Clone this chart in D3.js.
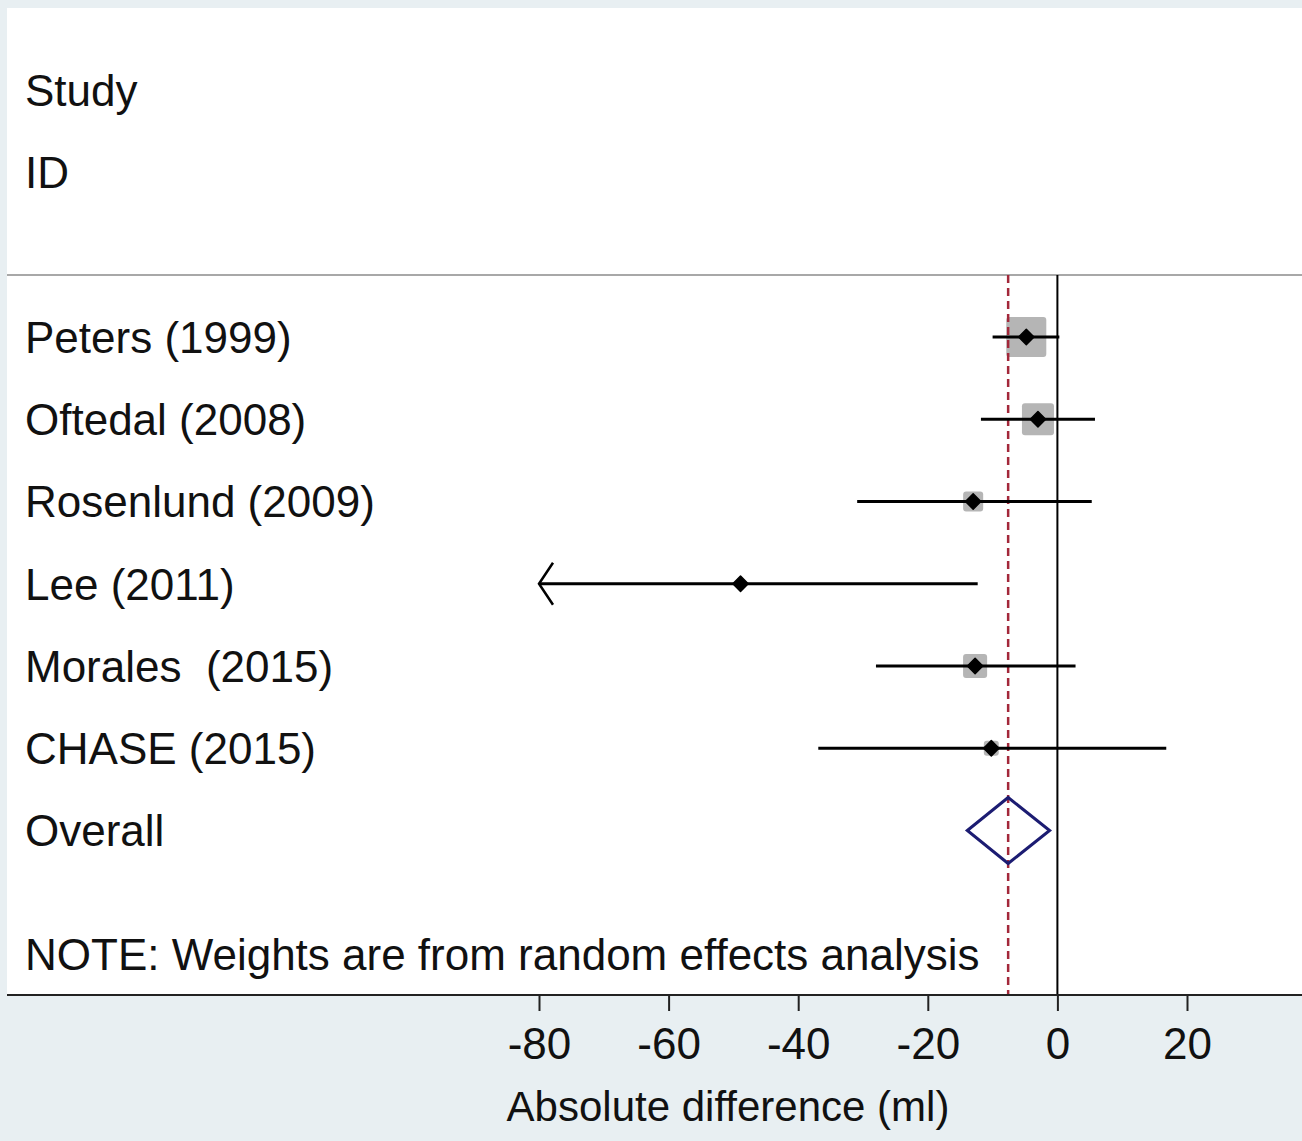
<!DOCTYPE html>
<html>
<head>
<meta charset="utf-8">
<script src="https://cdn.jsdelivr.net/npm/d3@7"></script>
<style>
  body { margin: 0; background: #e8eff2; }
  svg { display: block; font-family: "Liberation Sans", Arial, sans-serif; }
  text { white-space: pre; }
</style>
</head>
<body>
<svg width="1302" height="1141"></svg>
<script>
// study rows
var studies = ["Peters (1999)", "Oftedal (2008)", "Rosenlund (2009)", "Lee (2011)", "Morales  (2015)", "CHASE (2015)"]
var estimates = [-4.8, -3.0, -13.0, -48.9, -12.7, -10.2]
var lowerCI = [-10.0, -11.8, -30.9, -86.0, -28.0, -36.9]
var upperCI = [0.3, 5.8, 5.3, -12.3, 2.8, 16.8]
var weights = [41.5, 26.6, 10.4, 0.7, 15.0, 5.8]
// overall (random effects)
var overall = {label: "Overall", est: -7.6, lo: -13.9, hi: -1.2}
var xTicks = [-80, -60, -40, -20, 0, 20]
var axisTitle = "Absolute difference (ml)"
var note = "NOTE: Weights are from random effects analysis"

var svg = d3.select("svg")
var x = d3.scaleLinear().domain([-80, 20]).range([539, 1187])
// row index: -3 = Study, -2 = ID, 0..5 studies, 6 overall, 7.5 note, 8 = axis
var y = d3.scaleLinear().domain([-4, 8]).range([8, 995])
var boxSize = d3.scaleSqrt().domain([0, 41.5]).range([0, 40])

// white plot region
svg.append("rect").attr("x", 7).attr("y", y(-4)).attr("width", 1302 - 7).attr("height", y(8) - y(-4)).attr("fill", "#ffffff")

var fs = 44
function label(txt, row) {
    svg.append("text").attr("x", 25).attr("y", y(row) + 0.36 * fs)
        .attr("xml:space", "preserve")
        .attr("font-size", fs).attr("fill", "#111").text(txt)
}
label("Study", -3)
label("ID", -2)
studies.forEach(function(s, i) { label(s, i) })
label(overall.label, 6)
label(note, 7.5)

// separator under header
svg.append("line").attr("x1", 7).attr("x2", 1302).attr("y1", y(-0.755)).attr("y2", y(-0.755))
    .attr("stroke", "#a8a8a8").attr("stroke-width", 2)

// line of no effect
svg.append("line").attr("x1", x(0)).attr("x2", x(0)).attr("y1", y(-0.755)).attr("y2", y(8))
    .attr("stroke", "#000").attr("stroke-width", 2)

// boxes
studies.forEach(function(s, i) {
    var b = boxSize(weights[i])
    svg.append("rect").attr("x", x(estimates[i]) - b / 2).attr("y", y(i) - b / 2)
        .attr("width", b).attr("height", b).attr("rx", 3)
        .attr("fill", "#b5b5b5")
})

// overall estimate dashed line
svg.append("line").attr("x1", x(overall.est)).attr("x2", x(overall.est)).attr("y1", y(-0.755)).attr("y2", y(8))
    .attr("stroke", "#a3283a").attr("stroke-width", 2.5).attr("stroke-dasharray", "8,5")

// confidence intervals
studies.forEach(function(s, i) {
    var lo = Math.max(lowerCI[i], -80)
    svg.append("line").attr("x1", x(lo)).attr("x2", x(upperCI[i])).attr("y1", y(i)).attr("y2", y(i))
        .attr("stroke", "#000").attr("stroke-width", 3)
    if (lowerCI[i] < -80) {
        svg.append("path")
            .attr("d", "M " + (x(-80) + 14) + " " + (y(i) - 21) + " L " + x(-80) + " " + y(i) + " L " + (x(-80) + 14) + " " + (y(i) + 21))
            .attr("fill", "none").attr("stroke", "#000").attr("stroke-width", 2.5)
    }
    svg.append("path").attr("d", d3.symbol().type(d3.symbolDiamond2).size(150)())
        .attr("transform", "translate(" + x(estimates[i]) + "," + y(i) + ")")
        .attr("fill", "#000").attr("stroke", "#000").attr("stroke-width", 1.5).attr("stroke-linejoin", "round")
})

// overall diamond
var oy = y(6), oh = 33
svg.append("path")
    .attr("d", "M " + x(overall.lo) + " " + oy + " L " + x(overall.est) + " " + (oy - oh) +
        " L " + x(overall.hi) + " " + oy + " L " + x(overall.est) + " " + (oy + oh) + " Z")
    .attr("fill", "none").attr("stroke", "#1c1c72").attr("stroke-width", 3)

// x axis
var axis = d3.axisBottom(x).tickValues(xTicks).tickFormat(function(d) { return String(d) })
    .tickSize(16).tickPadding(17).tickSizeOuter(0)
var ax = svg.append("g").attr("transform", "translate(0," + y(8) + ")").call(axis)
ax.select(".domain").remove()
ax.selectAll(".tick line").attr("stroke", "#222").attr("stroke-width", 2)
ax.selectAll(".tick text").attr("font-size", 44).attr("fill", "#111").attr("font-family", "Liberation Sans, Arial, sans-serif")
svg.append("line").attr("x1", 7).attr("x2", 1302).attr("y1", y(8)).attr("y2", y(8))
    .attr("stroke", "#222").attr("stroke-width", 2)

svg.append("text").attr("x", 728).attr("y", 1121).attr("text-anchor", "middle")
    .attr("font-size", 42).attr("fill", "#111").text(axisTitle)
</script>
</body>
</html>
